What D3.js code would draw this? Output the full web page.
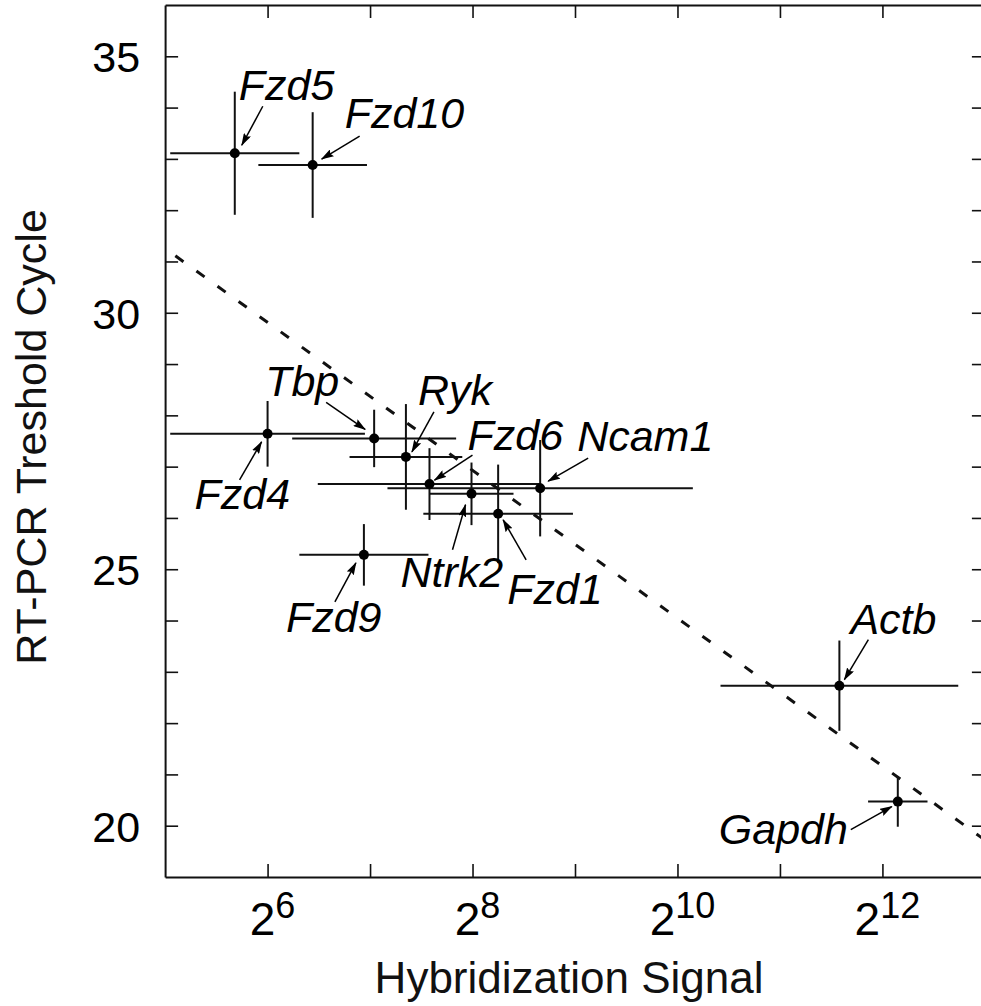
<!DOCTYPE html>
<html><head><meta charset="utf-8">
<script src="https://cdn.jsdelivr.net/npm/d3@7"></script>
<style>body{margin:0;background:#fff;overflow:hidden}</style>
</head><body>
<svg id="chart" width="981" height="1006"></svg>
<script>
// ---- data ----
const genes         = ["Fzd5","Fzd10","Fzd4","Tbp","Ryk","Fzd6","Ncam1","Ntrk2","Fzd1","Fzd9","Actb","Gapdh"];
const log2Signal    = [5.68, 6.44, 6.00, 7.04, 7.35, 7.58, 8.66, 7.99, 8.25, 6.94, 11.58, 12.15];
const log2SignalErr = [0.63, 0.53, 0.95, 0.80, 0.55, 1.09, 1.49, 0.41, 0.73, 0.63, 1.16, 0.29];
const ctMean        = [33.11, 32.88, 27.64, 27.55, 27.19, 26.66, 26.58, 26.47, 26.08, 25.28, 22.73, 20.47];
const ctErr         = [1.20, 1.03, 0.64, 0.56, 1.03, 0.70, 0.94, 0.61, 0.96, 0.60, 0.88, 0.49];
const xTickExponents = [6, 8, 10, 12];
const yTickLabels    = [20, 25, 30, 35];
const fitLog2Signal  = [5.1, 13];
const fitCt          = [31.11, 19.72];

// ---- layout (pixel offsets of annotation text / arrows relative to each point) ----
const labelLayout = {
  Fzd5:  {t:[4,-53],     a:[28,-47],  h:[7,-8]},
  Fzd10: {t:[32,-37],    a:[47,-29],  h:[9,-6]},
  Fzd4:  {t:[-73,75],    a:[-28,46],  h:[-6,8]},
  Tbp:   {t:[-109,-42],  a:[-48,-36], h:[-9,-9]},
  Ryk:   {t:[12,-52],    a:[28,-45],  h:[6,-5]},
  Fzd6:  {t:[38,-34],    a:[43,-29],  h:[5,-4]},
  Ncam1: {t:[37,-37],    a:[48,-30],  h:[8,-7]},
  Ntrk2: {t:[-71,93],    a:[-19,56],  h:[-6,11]},
  Fzd1:  {t:[9,90],      a:[28,46],   h:[5,6]},
  Fzd9:  {t:[-78,77],    a:[-29,47],  h:[-8,8]},
  Actb:  {t:[11,-52],    a:[29,-46],  h:[5,-6]},
  Gapdh: {t:[-179,42],   a:[-47,28],  h:[-6,5]}
};

const font = "'Liberation Sans', Arial, Helvetica, sans-serif";
const svg = d3.select("#chart");

const x = d3.scaleLinear().domain([5, 13]).range([165.1, 984.9]);
const y = d3.scaleLinear().domain([19, 36]).range([877, 5]);

const data = genes.map((g, i) => ({
  gene: g, x: log2Signal[i], xe: log2SignalErr[i], y: ctMean[i], ye: ctErr[i]
}));

// ---- axes (ticks inward, all four sides) ----
const xt = d3.range(6, 13);
const yt = d3.range(20, 36);
function styleAxis(g) {
  g.selectAll("path.domain").attr("stroke", "#111").attr("stroke-width", 2);
  g.selectAll(".tick line").attr("stroke", "#111").attr("stroke-width", 1.6);
}
svg.append("g").attr("transform", `translate(0,${y(19)})`)
  .call(d3.axisBottom(x).tickValues(xt).tickSize(-13).tickSizeOuter(0).tickFormat(""))
  .call(styleAxis);
svg.append("g").attr("transform", `translate(0,${y(36)})`)
  .call(d3.axisTop(x).tickValues(xt).tickSize(-13).tickSizeOuter(0).tickFormat(""))
  .call(styleAxis);
const yAxis = svg.append("g").attr("transform", `translate(${x(5)},0)`)
  .call(d3.axisLeft(y).tickValues(yt).tickSize(-13).tickSizeOuter(0).tickPadding(25)
        .tickFormat(d => yTickLabels.includes(d) ? d : ""))
  .call(styleAxis);
yAxis.selectAll(".tick text").attr("font-family", font).attr("font-size", 43)
  .attr("fill", "#000").attr("dy", "0.36em");
svg.append("g").attr("transform", `translate(${x(13)},0)`)
  .call(d3.axisRight(y).tickValues(yt).tickSize(-13).tickSizeOuter(0).tickFormat(""))
  .call(styleAxis);

// x tick labels 2^n
const xl = svg.append("g").attr("font-family", font).attr("fill", "#000");
xTickExponents.forEach(e => {
  const t = xl.append("text").attr("x", x(e) + 5).attr("y", 935).attr("text-anchor", "middle");
  t.append("tspan").attr("font-size", 46).text("2");
  t.append("tspan").attr("font-size", 36).attr("dy", -17).text(String(e));
});

// axis titles
svg.append("text").attr("x", (x(5) + 981) / 2 - 4).attr("y", 993).attr("text-anchor", "middle")
  .attr("font-family", font).attr("font-size", 44).attr("fill", "#111").text("Hybridization Signal");
svg.append("text").attr("transform", `translate(46,${(y(19) + y(36)) / 2 - 4}) rotate(-90)`)
  .attr("text-anchor", "middle").attr("font-family", font).attr("font-size", 43)
  .attr("fill", "#111").text("RT-PCR Treshold Cycle");

// ---- regression line ----
const line = d3.line().x(d => x(d[0])).y(d => y(d[1]));
svg.append("path").datum(fitLog2Signal.map((v, i) => [v, fitCt[i]]))
  .attr("d", line).attr("fill", "none").attr("stroke", "#111")
  .attr("stroke-width", 3).attr("stroke-dasharray", "10,16");

// ---- error bars & points ----
const pts = svg.append("g");
pts.selectAll("line.h").data(data).join("line").attr("class", "h")
  .attr("x1", d => x(d.x - d.xe)).attr("x2", d => x(d.x + d.xe))
  .attr("y1", d => y(d.y)).attr("y2", d => y(d.y))
  .attr("stroke", "#111").attr("stroke-width", 2);
pts.selectAll("line.v").data(data).join("line").attr("class", "v")
  .attr("x1", d => x(d.x)).attr("x2", d => x(d.x))
  .attr("y1", d => y(d.y - d.ye)).attr("y2", d => y(d.y + d.ye))
  .attr("stroke", "#111").attr("stroke-width", 2);
pts.selectAll("circle").data(data).join("circle")
  .attr("cx", d => x(d.x)).attr("cy", d => y(d.y)).attr("r", 5).attr("fill", "#000");

// ---- annotations ----
svg.append("defs").append("marker").attr("id", "ah")
  .attr("markerUnits", "userSpaceOnUse").attr("markerWidth", 13).attr("markerHeight", 8)
  .attr("refX", 12).attr("refY", 4).attr("orient", "auto")
  .append("path").attr("d", "M0,0 L13,4 L0,8 L2,4 Z").attr("fill", "#000");

const ann = svg.append("g");
data.forEach(d => {
  const L = labelLayout[d.gene];
  const px = x(d.x), py = y(d.y);
  ann.append("line")
    .attr("x1", px + L.a[0]).attr("y1", py + L.a[1])
    .attr("x2", px + L.h[0]).attr("y2", py + L.h[1])
    .attr("stroke", "#000").attr("stroke-width", 1.5).attr("marker-end", "url(#ah)");
  ann.append("text").attr("x", px + L.t[0]).attr("y", py + L.t[1])
    .attr("font-family", font).attr("font-style", "italic").attr("font-size", 43)
    .attr("fill", "#000").text(d.gene);
});
</script>
</body></html>
